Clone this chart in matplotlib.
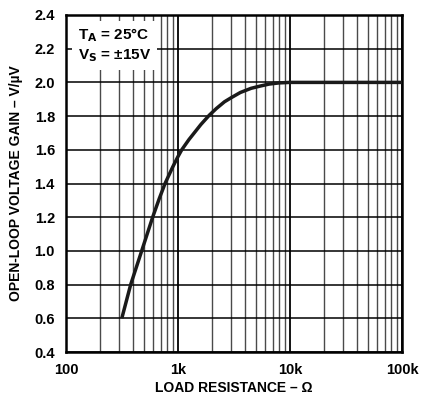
import numpy as np
import matplotlib
matplotlib.use("Agg")
from matplotlib import pyplot as plt
from matplotlib.ticker import FixedLocator, NullFormatter

plt.rcParams['font.family'] = ['Liberation Sans', 'DejaVu Sans']
plt.rcParams['font.weight'] = 'bold'

# load resistance (ohm) and open-loop gain (V/uV)
r_load = [315, 378, 474, 594, 680, 766, 900, 1000, 1080, 1250, 1600, 1900, 2200, 2600,
          3000, 3600, 4500, 5400, 6500, 8000, 10000, 100000]
gain = [0.60, 0.80, 1.00, 1.20, 1.31, 1.40, 1.50, 1.56, 1.60, 1.66, 1.75, 1.805, 1.845, 1.885,
        1.91, 1.94, 1.965, 1.978, 1.99, 1.997, 2.00, 2.00]

x_ticks = [100, 1000, 10000, 100000]
x_labels = ["100", "1k", "10k", "100k"]
y_ticks = [0.4, 0.6, 0.8, 1.0, 1.2, 1.4, 1.6, 1.8, 2.0, 2.2, 2.4]

fig = plt.figure(figsize=(4.21, 3.96), dpi=100)
ax = fig.add_axes([66 / 421, 1 - 352 / 396, 336 / 421, 337 / 396])

ax.set_xscale("log")
ax.set_xlim(100, 100000)
ax.set_ylim(0.4, 2.4)

minors = [m * 10 ** d for d in range(2, 5) for m in range(2, 10)]
ax.xaxis.set_major_locator(FixedLocator(x_ticks))
ax.xaxis.set_minor_locator(FixedLocator(minors))
ax.xaxis.set_minor_formatter(NullFormatter())
ax.set_xticklabels(x_labels)
ax.set_yticks(y_ticks)
ax.set_yticklabels(["%.1f" % v for v in y_ticks])

ax.grid(True, which="major", axis="x", color="black", lw=1.3)
ax.grid(True, which="minor", axis="x", color="#4a4a4a", lw=1.0)
ax.grid(True, which="major", axis="y", color="black", lw=1.1)
ax.tick_params(which="both", length=0, labelsize=10.5, pad=8)
for s in ax.spines.values():
    s.set_linewidth(1.8)

ax.plot(r_load, gain, color="#1a1a1a", lw=2.5, solid_capstyle="butt", zorder=3)

ax.text(0.035, 0.965, "T$_\\mathbf{A}$ = 25°C\nV$_\\mathbf{S}$ = ±15V", transform=ax.transAxes,
        fontsize=11, fontweight="bold", va="top", ha="left", linespacing=1.25,
        bbox=dict(facecolor="white", edgecolor="none", pad=4), zorder=4)

ax.set_xlabel("LOAD RESISTANCE – Ω", fontsize=10, fontweight="bold", labelpad=3)
ax.set_ylabel("OPEN-LOOP VOLTAGE GAIN – V/µV", fontsize=10, fontweight="bold", labelpad=8)

fig.savefig("out.png", dpi=100)
